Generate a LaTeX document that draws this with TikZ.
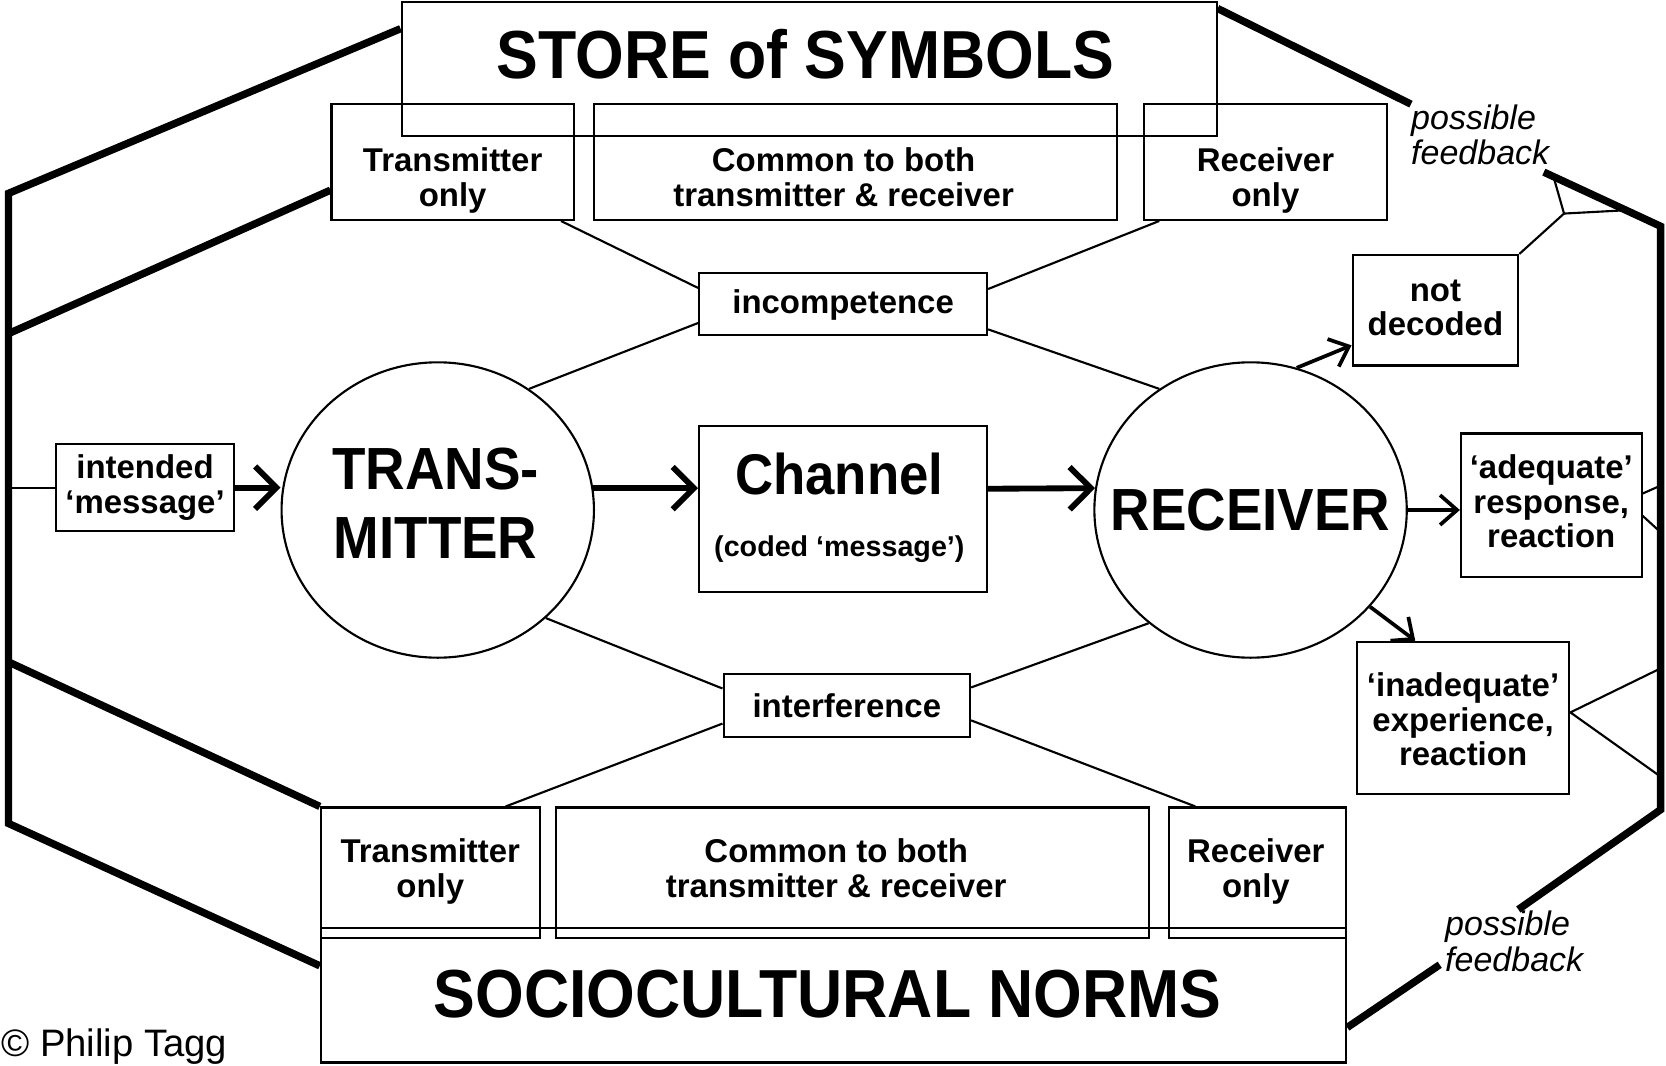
\documentclass[tikz,border=0pt]{standalone}
\usepackage{fontspec}
\setmainfont{Liberation Sans}
\newfontfamily\condfont{Liberation Sans}[FakeStretch=0.92]
\usetikzlibrary{shapes.geometric,arrows.meta}

\begin{document}
\begin{tikzpicture}[x=1pt,y=-1pt,
  box/.style={draw, rectangle, line width=2pt, inner sep=0pt},
  orb/.style={draw, ellipse, line width=2pt, inner sep=0pt,
              minimum width=294pt, minimum height=278pt},
  lab/.style={font=\fontsize{31}{32.5}\selectfont\bfseries, align=center, inner sep=0pt},
  title/.style={font=\condfont\fontsize{64}{74}\selectfont\bfseries, inner sep=0pt},
  huge/.style={font=\condfont\fontsize{56}{65}\selectfont\bfseries, align=center, inner sep=0pt},
  note/.style={font=\fontsize{32}{33}\selectfont\itshape, align=left, inner sep=0pt},
  frame/.style={line width=7pt},
  conn/.style={line width=2pt},
  bigarrow/.style={line width=5.5pt, -{Straight Barb[length=20pt,width=40pt]}},
  midarrow/.style={line width=3.5pt, -{Straight Barb[length=16pt,width=28pt]}},
]
\useasboundingbox (0,0) rectangle (1568,1003);
\fill[white] (0,0) rectangle (1568,1003);

% ---- store of symbols (top)
\node[box, minimum width=767pt, minimum height=126pt] (store) at (761.5,65) {};
\node[title] (storeT) at (758,51) {STORE of SYMBOLS};
\node[box, minimum width=228pt, minimum height=109pt] (tt) at (426,152.5) {};
\node[box, minimum width=492pt, minimum height=109pt] (tc) at (805,152.5) {};
\node[box, minimum width=228pt, minimum height=109pt] (tr) at (1191,152.5) {};
\node[lab] (ttT) at (426,170) {Transmitter\\only};
\node[lab] (tcT) at (794,167) {Common to both\\transmitter \& receiver};
\node[lab] (trT) at (1191,170) {Receiver\\only};

% ---- sociocultural norms (bottom)
\node[box, minimum width=965pt, minimum height=127pt] (soc) at (784.5,936.5) {};
\node[title] (socT) at (779,936) {SOCIOCULTURAL NORMS};
\node[box, minimum width=206pt, minimum height=123pt] (bt) at (405,821.5) {};
\node[box, minimum width=558pt, minimum height=123pt] (bc) at (802,821.5) {};
\node[box, minimum width=167pt, minimum height=123pt] (br) at (1183.5,821.5) {};
\node[lab] (btT) at (405,820) {Transmitter\\only};
\node[lab] (bcT) at (787,817) {Common to both\\transmitter \& receiver};
\node[lab] (brT) at (1182,820) {Receiver\\only};

% ---- central chain
\node[box, minimum width=167pt, minimum height=82pt] (intended) at (136.5,459) {};
\node[lab] (intendedT) at (136.5,459) {intended\\‘message’};
\node[orb] (tx) at (412,480) {};
\node[huge] (txT) at (410,474) {TRANS-\\MITTER};
\node[box, minimum width=271pt, minimum height=156pt] (ch) at (793.5,479) {};
\node[font=\condfont\fontsize{54}{60}\selectfont\bfseries, inner sep=0pt] (chT) at (790,446) {Channel};
\node[font=\fontsize{27}{30}\selectfont\bfseries, inner sep=0pt] (chS) at (790,517) {(coded ‘message’)};
\node[orb] (rc) at (1177,480) {};
\node[huge] (rcT) at (1177,480) {RECEIVER};

\node[box, minimum width=271pt, minimum height=58pt] (inc) at (793.5,286) {};
\node[lab] (incT) at (793.5,287) {incompetence};
\node[box, minimum width=232pt, minimum height=60pt] (intf) at (797,664) {};
\node[lab] (intfT) at (797,664) {interference};

% ---- outcomes
\node[box, minimum width=156pt, minimum height=104pt] (nd) at (1351,292) {};
\node[lab] (ndT) at (1351,290) {not\\decoded};
\node[box, minimum width=170pt, minimum height=135pt] (ad) at (1460,475.5) {};
\node[lab] (adT) at (1460,472) {‘adequate’\\response,\\reaction};
\node[box, minimum width=200pt, minimum height=143pt] (ina) at (1377,675.5) {};
\node[lab] (inaT) at (1377,677) {‘inadequate’\\experience,\\reaction};

% ---- feedback labels and credit
\node[note, anchor=west] (fbA) at (1328,126.5) {possible\\feedback};
\node[note, anchor=west] (fbB) at (1360,886) {possible\\feedback};
\node[font=\fontsize{36}{40}\selectfont, inner sep=0pt, anchor=base west] (credit) at (1,994) {© Philip Tagg};

% ---- outer frame corners
\coordinate (lt) at (8,182);
\coordinate (lm1) at (8,314);
\coordinate (lm2) at (8,623);
\coordinate (lb) at (8,775);
\coordinate (lv) at (8,0);
\coordinate (fa1) at (1453,162);
\coordinate (rt) at (1563,213);
\coordinate (rb) at (1563,762);
\coordinate (fb1) at (1429,856);
\coordinate (fb2) at (1355,908);

\draw[frame] ([yshift=-26pt]store.north west) -- (lt) -- (lb) -- ([yshift=-37pt]soc.north west);
\draw[frame] ([yshift=-82pt]tt.north west) -- (lm1);
\draw[frame] (lm2) -- (bt.north west);
\draw[frame] ([yshift=-7pt]store.north east) -- (fbA.north west);
\draw[frame] (fa1) -- (rt) -- (rb) -- (fb1);
\draw[frame] (fb2) -- ([yshift=-95pt]soc.north east);

% ---- links to the stores
\draw[conn] ([xshift=-13pt]tt.south east) -- ([yshift=15pt]inc.west);
\draw[conn] ([yshift=-18pt]inc.west) -- (tx.53);
\draw[conn] ([yshift=14pt]inc.east) -- ([xshift=15pt]tr.south west);
\draw[conn] ([yshift=-24pt]inc.east) -- (rc.127);
\draw[conn] (tx.-45) -- ([yshift=16pt]intf.west);
\draw[conn] ([yshift=-17pt]intf.west) -- ([xshift=-33pt]bt.north east);
\draw[conn] (rc.-132) -- ([yshift=17pt]intf.east);
\draw[conn] ([yshift=-14pt]intf.east) -- ([xshift=26pt]br.north west);
\draw[conn] (intended.west) -- (intended.west -| lv);

% ---- feedback branches
\coordinate (j1) at (1472,201);
\coordinate (f1) at (1462,166);
\coordinate (f2) at (1528,198);
\coordinate (a1) at (1563,457);
\coordinate (a2) at (1563,501);
\coordinate (i1) at (1563,629);
\coordinate (i2) at (1563,731);
\draw[conn] (nd.north east) -- (j1) -- (f1);
\draw[conn] (j1) -- (f2);
\draw[conn] ([yshift=11pt]ad.east) -- (a1);
\draw[conn] ([yshift=-10pt]ad.east) -- (a2);
\draw[conn] (i1) -- ([yshift=5pt]ina.east) -- (i2);

% ---- main flow
\draw[bigarrow] (intended.east) -- (intended.east -| tx.west);
\draw[bigarrow] (tx.8) -- (tx.8 -| ch.west);
\draw[bigarrow] ([yshift=19pt]ch.east) -- (rc.172);
\draw[midarrow] (rc.east) -- (rc.east -| ad.west);
\draw[midarrow] (rc.72) -- ([yshift=-33pt]nd.west);
\draw[midarrow] (rc.-39) -- ([xshift=56pt]ina.north west);
\end{tikzpicture}
\end{document}
